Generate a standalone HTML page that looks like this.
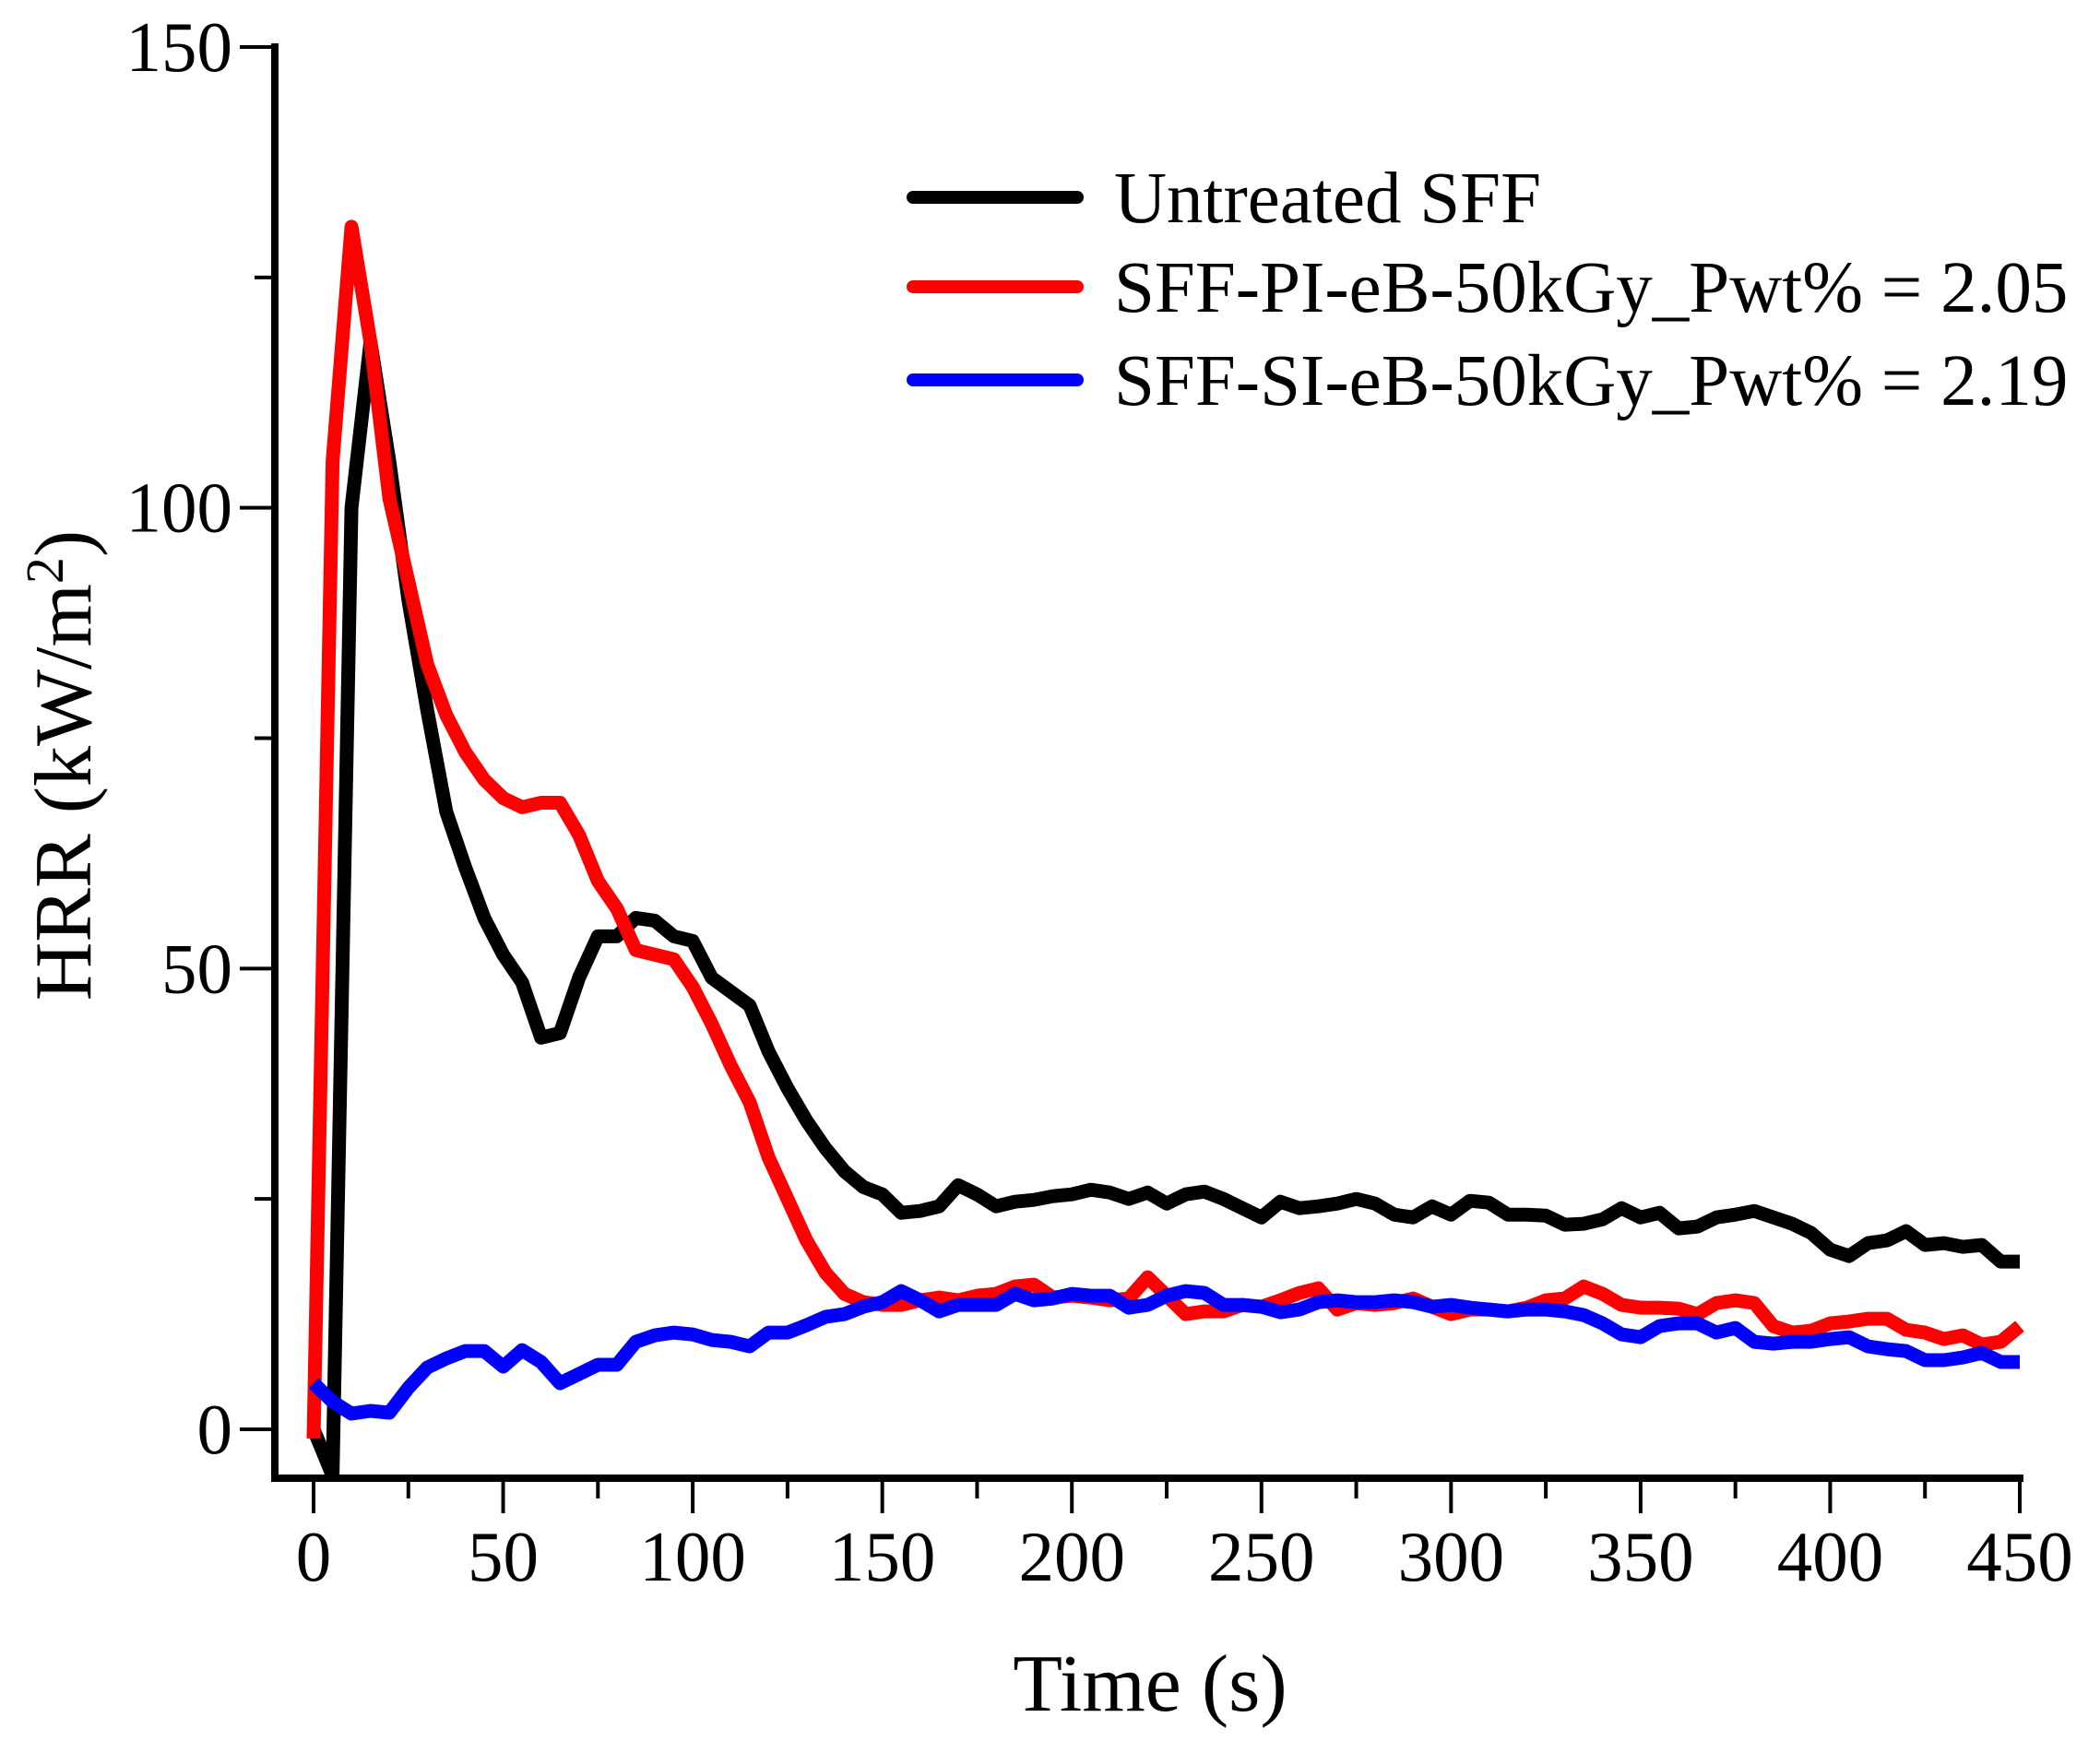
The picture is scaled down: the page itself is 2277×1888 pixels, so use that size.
<!DOCTYPE html>
<html><head><meta charset="utf-8"><style>
html,body{margin:0;padding:0;background:#fff;}
svg{display:block;font-family:"Liberation Serif",serif;}
</style></head><body>
<svg id="chart" width="2277" height="1888" viewBox="0 0 2277 1888"></svg>
<script>
const times=[];for(let t=0;t<=450;t+=5)times.push(t);
const untreated=[0,-5,100,118,105,90,78,67,61,55.5,51.5,48.5,42.5,43,49,53.5,53.5,55.5,55.2,53.5,53,49,47.5,46,41,37,33.5,30.5,28,26.3,25.5,23.5,23.7,24.2,26.5,25.5,24.2,24.7,24.9,25.3,25.5,26,25.7,25,25.7,24.5,25.5,25.8,25,24,23,24.7,24,24.2,24.5,25,24.5,23.3,23,24.2,23.3,24.8,24.6,23.3,23.3,23.2,22.2,22.3,22.8,24,23,23.5,21.8,22,23,23.3,23.7,23,22.3,21.3,19.5,18.8,20.2,20.5,21.5,20,20.2,19.8,20,18.2,18.2];
const sffPI=[-1,105,130.5,118,101,92,83,77.5,73.5,70.5,68.5,67.5,68,68,64.5,59.5,56.5,52,51.5,51,48,44,39.5,35.5,29.5,25,20.5,17,14.7,13.8,13.5,13.5,14,14.3,14,14.5,14.7,15.5,15.7,14.3,14.5,14.3,14,14.2,16.5,14.5,12.5,12.8,12.8,13.5,13.3,14,14.8,15.3,13,13.7,13.5,13.7,14.2,13.3,12.5,13,13,12.8,13.2,14,14.2,15.5,14.7,13.5,13.2,13.2,13.1,12.5,13.7,14,13.7,11.2,10.5,10.7,11.5,11.7,12,12,10.8,10.5,9.8,10.2,9.2,9.5,11.2];
const sffSI=[5,3,1.7,2,1.8,4.5,6.7,7.7,8.5,8.5,6.8,8.6,7.3,5,6,7,7,9.5,10.2,10.5,10.3,9.7,9.5,9,10.5,10.5,11.3,12.2,12.5,13.3,13.8,15,14,12.8,13.5,13.5,13.5,14.7,14,14.2,14.7,14.5,14.5,13.2,13.5,14.5,15,14.8,13.5,13.5,13.3,12.7,13,13.8,14,13.8,13.8,14,13.8,13.3,13.5,13.2,13,12.8,13,13,12.8,12.4,11.5,10.3,10,11.2,11.5,11.5,10.5,11,9.5,9.3,9.5,9.5,9.8,10,9,8.7,8.5,7.5,7.5,7.8,8.3,7.3,7.3];
const xTicks=[0,50,100,150,200,250,300,350,400,450];
const yTicks=[0,50,100,150];
const seriesNames=["Untreated SFF","SFF-PI-eB-50kGy_Pwt% = 2.05","SFF-SI-eB-50kGy_Pwt% = 2.19"];
const seriesColors=["#000000","#ff0000","#0000ff"];

const NS="http://www.w3.org/2000/svg";
const svg=document.getElementById('chart');
const X0=340,X1=2190,Y0=1550,Y1=51,AXL=298,AXB=1603;
const sx=v=>X0+(v/450)*(X1-X0);
const sy=v=>Y0-(v/150)*(Y0-Y1);
function mk(tag,attrs,parent){const e=document.createElementNS(NS,tag);for(const k in attrs)e.setAttribute(k,attrs[k]);(parent||svg).appendChild(e);return e;}

const all=[untreated,sffPI,sffSI];
const clip=mk('clipPath',{id:'plotclip'});
mk('rect',{x:AXL,y:0,width:X1-AXL+10,height:AXB},clip);
all.forEach((s,i)=>{
  const d=s.map((v,j)=>(j?'L':'M')+sx(times[j]).toFixed(1)+','+sy(v).toFixed(1)).join('');
  const p=mk('path',{d:d,fill:'none',stroke:seriesColors[i],'stroke-width':15,'stroke-linejoin':'round','clip-path':'url(#plotclip)'});
  
  
});

const ya=mk('line',{x1:AXL,y1:Y1-4,x2:AXL,y2:AXB+4,stroke:'#000','stroke-width':8});

const xa=mk('line',{x1:AXL-4,y1:AXB,x2:X1+4,y2:AXB,stroke:'#000','stroke-width':8});


for(let v=0;v<=450;v+=25){
  const major=v%50===0;
  const t=mk('line',{x1:sx(v),y1:AXB,x2:sx(v),y2:AXB+(major?38:22),stroke:'#000','stroke-width':4});
  
}
xTicks.forEach(v=>{
  const t=mk('text',{x:sx(v),y:1714,'font-size':77,'text-anchor':'middle'});
  t.textContent=v;
  
});
for(let v=0;v<=150;v+=25){
  const major=v%50===0;
  const t=mk('line',{x1:AXL,y1:sy(v),x2:AXL-(major?38:22),y2:sy(v),stroke:'#000','stroke-width':4});
  
}
yTicks.forEach(v=>{
  const t=mk('text',{x:252,y:sy(v)+26,'font-size':77,'text-anchor':'end'});
  t.textContent=v;
  
});

const xt=mk('text',{x:1247,y:1855,'font-size':88,'text-anchor':'middle'});
xt.textContent='Time (s)';

const yt=mk('text',{x:0,y:0,'font-size':88,'text-anchor':'middle',transform:'translate(98,830) rotate(-90)'});
yt.innerHTML='HRR (kW/m<tspan dy="-30" font-size="58">2</tspan><tspan dy="30">)</tspan>';


const legY=[214,311,412];
seriesNames.forEach((n,i)=>{
  const g=mk('g',{});
  
  mk('line',{x1:990,y1:legY[i],x2:1168,y2:legY[i],stroke:seriesColors[i],'stroke-width':14,'stroke-linecap':'round'},g);
  const t=mk('text',{x:1208,y:legY[i]+27,'font-size':79},g);
  t.textContent=n;
});
</script>
</body></html>
